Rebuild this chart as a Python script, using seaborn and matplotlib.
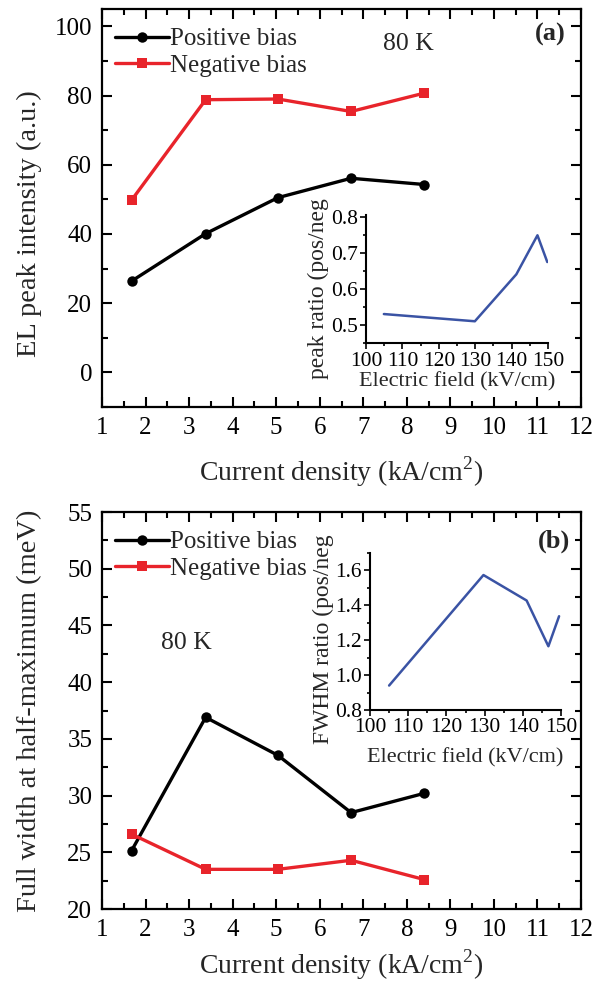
import matplotlib
matplotlib.use("Agg")
import matplotlib.pyplot as plt
import seaborn as sns
import pandas as pd
from matplotlib.ticker import MultipleLocator, FormatStrFormatter

# ---------------- data ----------------
current_density = [1.68, 3.38, 5.04, 6.72, 8.40]

el_positive = [26.4, 40.1, 50.5, 56.1, 54.3]
el_negative = [49.8, 78.8, 79.0, 75.4, 80.7]

fwhm_positive = [25.15, 36.9, 33.55, 28.5, 30.2]
fwhm_negative = [26.6, 23.5, 23.5, 24.3, 22.6]

field_a = [104.9, 129.9, 141.3, 147.1, 149.8]
peak_ratio = [0.531, 0.511, 0.641, 0.749, 0.675]

field_b = [105.0, 129.7, 141.0, 146.7, 149.5]
fwhm_ratio = [0.94, 1.573, 1.427, 1.165, 1.337]

series_names = ["Positive bias", "Negative bias"]

# ---------------- style ----------------
sns.set_theme(style="ticks")
plt.rcParams["font.family"] = ["Liberation Serif", "DejaVu Serif"]
plt.rcParams["mathtext.fontset"] = "custom"
plt.rcParams["mathtext.rm"] = "Liberation Serif"

BLACK = "#000000"
RED = "#E8242B"
BLUE = "#3A53A4"

fig = plt.figure(figsize=(6.04, 9.82), dpi=100)
ax_a = fig.add_axes([0.1689, 0.5855, 0.7930, 0.4053])
ax_b = fig.add_axes([0.1689, 0.0743, 0.7930, 0.4043])

XLABEL = "Current density (kA/cm$^{\\mathregular{2}}$)"


def style_main(ax):
    for s in ax.spines.values():
        s.set_linewidth(1.6)
        s.set_color("black")
    ax.tick_params(which="both", direction="in", top=True, right=True,
                   width=1.5, colors="black", labelsize=18, pad=7)
    ax.tick_params(which="major", length=7)
    ax.tick_params(which="minor", length=4.5)
    ax.xaxis.set_major_locator(MultipleLocator(1))
    ax.xaxis.set_minor_locator(MultipleLocator(0.5))
    ax.set_xlim(1, 12)


def style_inset(ax):
    sns.despine(ax=ax)
    for s in ["left", "bottom"]:
        ax.spines[s].set_linewidth(1.5)
        ax.spines[s].set_color("black")
    ax.tick_params(which="both", direction="out", width=1.2, colors="black",
                   labelsize=15.5, pad=2)
    ax.tick_params(which="major", length=4)
    ax.tick_params(which="minor", length=2.5)
    ax.xaxis.set_major_locator(MultipleLocator(10))
    ax.xaxis.set_minor_locator(MultipleLocator(5))
    ax.set_xlim(100, 150)
    ax.patch.set_alpha(0)


def draw_main(ax, pos, neg):
    df = pd.DataFrame({
        "x": current_density * 2,
        "y": pos + neg,
        "series": [series_names[0]] * len(pos) + [series_names[1]] * len(neg),
    })
    sns.lineplot(data=df, x="x", y="y", hue="series", style="series",
                 palette={series_names[0]: BLACK, series_names[1]: RED},
                 markers={series_names[0]: "o", series_names[1]: "s"},
                 dashes=False, markersize=7.5, markeredgewidth=0,
                 linewidth=2.4, ax=ax, sort=False)
    leg = ax.legend(loc="upper left", bbox_to_anchor=(-0.012, 1.0),
                    frameon=False, fontsize=18, handlelength=2.15,
                    handletextpad=0.05, labelspacing=0.15, borderaxespad=0.35)
    return leg


# ---------------- panel (a) ----------------
draw_main(ax_a, el_positive, el_negative)
style_main(ax_a)
ax_a.set_ylim(-10, 105)
ax_a.yaxis.set_major_locator(MultipleLocator(20))
ax_a.yaxis.set_minor_locator(MultipleLocator(10))
ax_a.set_xlabel(XLABEL, fontsize=20, labelpad=11)
ax_a.set_ylabel("EL peak intensity (a.u.)", fontsize=20.5)
ax_a.yaxis.set_label_coords(-0.125, 0.46)
ax_a.text(0.639, 0.912, "80 K", transform=ax_a.transAxes, fontsize=18.5,
          ha="center", va="center")
ax_a.text(0.936, 0.937, "(a)", transform=ax_a.transAxes, fontsize=19,
          fontweight="bold", ha="center", va="center")

ins_a = fig.add_axes([0.606, 0.6504, 0.3013, 0.1306])
sns.lineplot(x=field_a, y=peak_ratio, color=BLUE, linewidth=1.8, ax=ins_a,
             sort=False)
style_inset(ins_a)
ins_a.set_ylim(0.45, 0.805)
ins_a.yaxis.set_major_locator(MultipleLocator(0.1))
ins_a.yaxis.set_minor_locator(MultipleLocator(0.05))
ins_a.set_xlabel("Electric field (kV/cm)", fontsize=16, labelpad=1)
ins_a.set_ylabel("peak ratio (pos/neg", fontsize=17)
ins_a.yaxis.set_label_coords(-0.205, 0.43)

# ---------------- panel (b) ----------------
draw_main(ax_b, fwhm_positive, fwhm_negative)
style_main(ax_b)
ax_b.set_ylim(20, 55)
ax_b.yaxis.set_major_locator(MultipleLocator(5))
ax_b.yaxis.set_minor_locator(MultipleLocator(2.5))
ax_b.set_xlabel(XLABEL, fontsize=20, labelpad=5)
ax_b.set_ylabel("Full width at half-maximum (meV)", fontsize=20.5)
ax_b.yaxis.set_label_coords(-0.125, 0.5)
ax_b.text(0.177, 0.671, "80 K", transform=ax_b.transAxes, fontsize=18.5,
          ha="center", va="center")
ax_b.text(0.944, 0.926, "(b)", transform=ax_b.transAxes, fontsize=19,
          fontweight="bold", ha="center", va="center")

ins_b = fig.add_axes([0.6126, 0.277, 0.3162, 0.160])
sns.lineplot(x=field_b, y=fwhm_ratio, color=BLUE, linewidth=1.8, ax=ins_b,
             sort=False)
style_inset(ins_b)
ins_b.set_ylim(0.8, 1.7)
ins_b.yaxis.set_major_locator(MultipleLocator(0.2))
ins_b.yaxis.set_minor_locator(MultipleLocator(0.1))
ins_b.yaxis.set_major_formatter(FormatStrFormatter("%.1f"))
ins_b.set_xlabel("Electric field (kV/cm)", fontsize=16, labelpad=8)
ins_b.set_ylabel("FWHM ratio (pos/neg", fontsize=17)
ins_b.yaxis.set_label_coords(-0.19, 0.45)

fig.savefig("out.png", dpi=100)
